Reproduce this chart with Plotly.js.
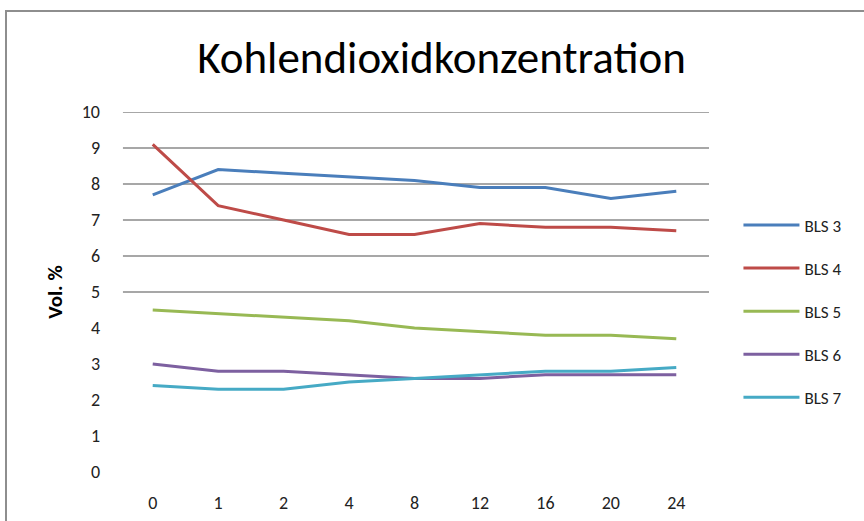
<!DOCTYPE html>
<html>
<head>
<meta charset="utf-8">
<script src="https://cdn.plot.ly/plotly-3.0.1.min.js"></script>
<style>
  html, body { margin: 0; padding: 0; background: #fff; overflow: hidden; }
  #chart { position: absolute; left: 0; top: 0; width: 864px; height: 521px; }
  #frame { position: absolute; left: 5px; top: 10px; width: 1000px; height: 700px;
           border: 2px solid #8e8e8e; pointer-events: none; box-sizing: border-box; }
</style>
</head>
<body>
<div id="chart"></div>
<div id="frame"></div>
<script>
const categories = ["0", "1", "2", "4", "8", "12", "16", "20", "24"];
const seriesNames = ["BLS 3", "BLS 4", "BLS 5", "BLS 6", "BLS 7"];
const bls3 = [7.7, 8.4, 8.3, 8.2, 8.1, 7.9, 7.9, 7.6, 7.8];
const bls4 = [9.1, 7.4, 7.0, 6.6, 6.6, 6.9, 6.8, 6.8, 6.7];
const bls5 = [4.5, 4.4, 4.3, 4.2, 4.0, 3.9, 3.8, 3.8, 3.7];
const bls6 = [3.0, 2.8, 2.8, 2.7, 2.6, 2.6, 2.7, 2.7, 2.7];
const bls7 = [2.4, 2.3, 2.3, 2.5, 2.6, 2.7, 2.8, 2.8, 2.9];
const yTicks = [0, 1, 2, 3, 4, 5, 6, 7, 8, 9, 10];
const gridTicks = [5, 6, 7, 8, 9, 10];

const colors = ["#4A7EBB", "#BE4B48", "#98B954", "#7D60A0", "#46AAC5"];
const values = [bls3, bls4, bls5, bls6, bls7];
const FONT = "Carlito, Lato, 'Open Sans', sans-serif";

const traces = values.map((v, i) => ({
  type: "scatter",
  mode: "lines",
  name: seriesNames[i],
  x: categories,
  y: v,
  line: { color: colors[i], width: 3 },
  legendgroup: "g" + i
}));

const gridShapes = gridTicks.map(t => ({
  type: "line", layer: "below",
  xref: "paper", x0: 0.005, x1: 1.0,
  yref: "y", y0: t, y1: t,
  line: { color: "#8a8a8a", width: 1.6 }
}));

const layout = {
  width: 864, height: 521,
  margin: { l: 120, r: 155, t: 112, b: 49 },
  paper_bgcolor: "rgba(0,0,0,0)",
  plot_bgcolor: "rgba(0,0,0,0)",
  showlegend: true,
  shapes: gridShapes,
  title: {
    text: "Kohlendioxidkonzentration",
    font: { family: FONT, size: 45, color: "#000" },
    x: 0.511, xanchor: "center", y: 0.89, yanchor: "middle"
  },
  xaxis: {
    type: "category",
    range: [-0.5, 8.5],
    showgrid: false, zeroline: false, showline: false,
    ticks: "", ticklabelstandoff: 18,
    tickfont: { family: FONT, size: 18, color: "#222" }
  },
  yaxis: {
    range: [0, 10],
    tickvals: yTicks,
    showgrid: false, zeroline: false, showline: false,
    ticks: "", ticklabelstandoff: 19,
    tickfont: { family: FONT, size: 18, color: "#222" },
    title: { text: "Vol. %", font: { family: FONT, size: 21, weight: "bold", color: "#000" }, standoff: 13 }
  },
  legend: {
    x: 1.05, xanchor: "left",
    y: 0.735, yanchor: "top",
    font: { family: FONT, size: 17, color: "#222" },
    traceorder: "grouped",
    tracegroupgap: 18,
    itemwidth: 56,
    bgcolor: "rgba(0,0,0,0)"
  }
};

Plotly.newPlot("chart", traces, layout, { displayModeBar: false, staticPlot: true });
</script>
</body>
</html>
